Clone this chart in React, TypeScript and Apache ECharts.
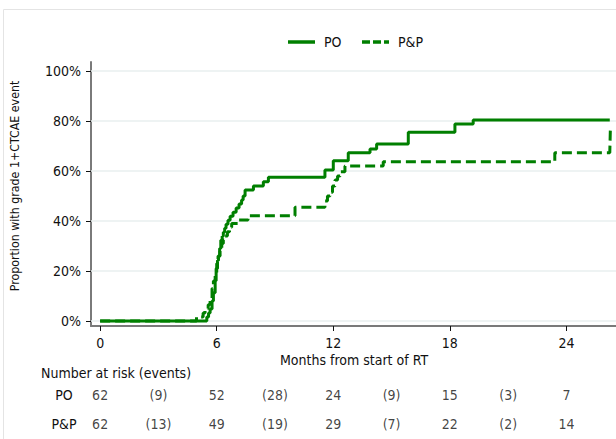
import React, { useEffect, useRef } from "react";
import * as echarts from "echarts";

const poTime = [0, 5.49, 5.58, 5.66, 5.76, 5.83, 5.92, 5.97, 6.04, 6.09, 6.15, 6.21, 6.28, 6.34, 6.41, 6.48, 6.58, 6.69, 6.84, 7.0, 7.15, 7.28, 7.36, 7.46, 7.89, 8.4, 8.66, 11.57, 12.0, 12.77, 13.89, 14.23, 15.86, 18.26, 19.2, 26.23];
const poValue = [0, 0.016, 0.032, 0.048, 0.08, 0.113, 0.161, 0.21, 0.242, 0.258, 0.29, 0.323, 0.339, 0.355, 0.371, 0.387, 0.403, 0.419, 0.435, 0.452, 0.468, 0.484, 0.5, 0.524, 0.54, 0.557, 0.575, 0.604, 0.641, 0.673, 0.688, 0.708, 0.755, 0.788, 0.804, 0.804];

const ppTime = [0, 4.96, 5.3, 5.4, 5.56, 5.66, 5.76, 5.83, 5.92, 6.0, 6.07, 6.17, 6.26, 6.34, 6.43, 6.55, 6.66, 6.77, 7.11, 7.61, 10.03, 11.57, 11.7, 11.83, 11.96, 12.09, 12.22, 12.35, 12.6, 14.57, 23.4, 26.23, 26.26];
const ppValue = [0, 0.016, 0.032, 0.05, 0.065, 0.09, 0.13, 0.16, 0.19, 0.23, 0.26, 0.284, 0.31, 0.324, 0.34, 0.357, 0.375, 0.39, 0.404, 0.421, 0.455, 0.48, 0.5, 0.515, 0.54, 0.564, 0.58, 0.597, 0.62, 0.637, 0.673, 0.673, 0.768];

const seriesNames = ["PO", "P&P"];
const xTicks = [0, 6, 12, 18, 24];
const yTicks = [0, 0.2, 0.4, 0.6, 0.8, 1];

const riskMonths = [0, 6, 12, 18, 24];
const poAtRisk = [62, 52, 24, 15, 7];
const ppAtRisk = [62, 49, 29, 22, 14];
const eventMonths = [3, 9, 15, 21];
const poEvents = [9, 28, 9, 3];
const ppEvents = [13, 19, 7, 2];

const FONT = "'DejaVu Sans Condensed', 'DejaVu Sans', sans-serif";
const GREEN = "#007f00";

export default function App() {
  const ref = useRef<HTMLDivElement>(null);

  useEffect(() => {
    document.body.style.margin = "0";
    const chart = echarts.init(ref.current!, null, { renderer: "svg" });

    const xMin = -0.47;
    const xMax = 26.55;

    const riskData: any[] = [];
    riskMonths.forEach((m, i) => {
      riskData.push([m, "PO", String(poAtRisk[i])]);
      riskData.push([m, "P&P", String(ppAtRisk[i])]);
    });
    eventMonths.forEach((m, i) => {
      riskData.push([m, "PO", "(" + poEvents[i] + ")"]);
      riskData.push([m, "P&P", "(" + ppEvents[i] + ")"]);
    });

    const txt = (text: string, x: number, y: number, extra: any = {}) => ({
      type: "text",
      x,
      y,
      silent: true,
      style: {
        text,
        fontSize: 14,
        fontFamily: FONT,
        fill: "#111",
        align: "left",
        verticalAlign: "middle",
        ...extra,
      },
    });

    chart.setOption({
      animation: false,
      textStyle: { fontFamily: FONT },
      grid: [
        { left: 91, right: 0, top: 62, bottom: 113 },
        { left: 91, right: 0, top: 380.5, height: 58 },
      ],
      xAxis: [
        {
          type: "value",
          gridIndex: 0,
          min: xMin,
          max: xMax,
          axisLine: { show: true, onZero: false, lineStyle: { color: "#7a7a7a", width: 2 } },
          axisTick: { show: true, customValues: xTicks, length: 5, lineStyle: { color: "#111", width: 1 } },
          axisLabel: { customValues: xTicks, margin: 10, fontSize: 14, color: "#111", fontFamily: FONT },
          splitLine: { show: false },
        },
        {
          type: "value",
          gridIndex: 1,
          min: xMin,
          max: xMax,
          show: false,
        },
      ],
      yAxis: [
        {
          type: "value",
          gridIndex: 0,
          min: -0.02,
          max: 1.036,
          axisLine: { show: true, onZero: false, lineStyle: { color: "#7a7a7a", width: 2 } },
          axisTick: { show: true, customValues: yTicks, length: 5, lineStyle: { color: "#111", width: 1 } },
          axisLabel: {
            customValues: yTicks,
            margin: 10,
            fontSize: 14,
            color: "#111",
            fontFamily: FONT,
            formatter: (v: number) => Math.round(v * 100) + "%",
          },
          splitLine: { show: false },
        },
        {
          type: "category",
          gridIndex: 1,
          data: ["PO", "P&P"],
          inverse: true,
          axisLine: { show: false },
          axisTick: { show: false },
          splitLine: { show: false },
          axisLabel: { align: "center", margin: 27, fontSize: 14, color: "#111", fontFamily: FONT },
        },
      ],
      series: [
        {
          type: "line",
          name: "grid",
          xAxisIndex: 0,
          yAxisIndex: 0,
          data: [],
          z: 1,
          silent: true,
          markLine: {
            silent: true,
            z: 1,
            symbol: "none",
            label: { show: false },
            lineStyle: { color: "#e8efef", width: 1.5, type: "solid" },
            data: yTicks.map((v) => ({ yAxis: v })),
          },
        },
        {
          type: "line",
          name: seriesNames[1],
          xAxisIndex: 0,
          yAxisIndex: 0,
          step: "end",
          symbol: "none",
          z: 3,
          data: ppTime.map((t, i) => [t, ppValue[i]]),
          lineStyle: { color: GREEN, width: 3, type: [10, 5] },
          itemStyle: { color: GREEN },
        },
        {
          type: "line",
          name: seriesNames[0],
          xAxisIndex: 0,
          yAxisIndex: 0,
          step: "end",
          symbol: "none",
          z: 4,
          data: poTime.map((t, i) => [t, poValue[i]]),
          lineStyle: { color: GREEN, width: 3, type: "solid" },
          itemStyle: { color: GREEN },
        },
        {
          type: "scatter",
          xAxisIndex: 1,
          yAxisIndex: 1,
          symbolSize: 1,
          itemStyle: { color: "rgba(0,0,0,0)" },
          silent: true,
          data: riskData,
          label: {
            show: true,
            position: "inside",
            fontSize: 14,
            color: "#111",
            fontFamily: FONT,
            formatter: (p: any) => p.value[2],
          },
        },
      ],
      graphic: [
        {
          type: "rect",
          shape: { x: 3.5, y: 9.5, width: 700, height: 600 },
          style: { fill: "none", stroke: "#e4e4e4", lineWidth: 1 },
          silent: true,
          z: -10,
        },
        {
          type: "line",
          silent: true,
          shape: { x1: 288, y1: 42, x2: 315, y2: 42 },
          style: { stroke: GREEN, lineWidth: 3.5 },
        },
        {
          type: "line",
          silent: true,
          shape: { x1: 362, y1: 42, x2: 389, y2: 42 },
          style: { stroke: GREEN, lineWidth: 3.5, lineDash: [8, 3] },
        },
        txt(seriesNames[0], 324, 42),
        txt(seriesNames[1], 398, 42),
        {
          type: "text",
          x: 15,
          y: 186,
          rotation: Math.PI / 2,
          silent: true,
          style: {
            text: "Proportion with grade 1+CTCAE event",
            fontSize: 12.3,
            fontFamily: FONT,
            fill: "#111",
            align: "center",
            verticalAlign: "middle",
          },
        },
        txt("Months from start of RT", 354, 359.5, { align: "center" }),
        txt("Number at risk (events)", 41, 373),
      ],
    });

    return () => chart.dispose();
  }, []);

  return <div ref={ref} style={{ width: 616, height: 439 }} />;
}
